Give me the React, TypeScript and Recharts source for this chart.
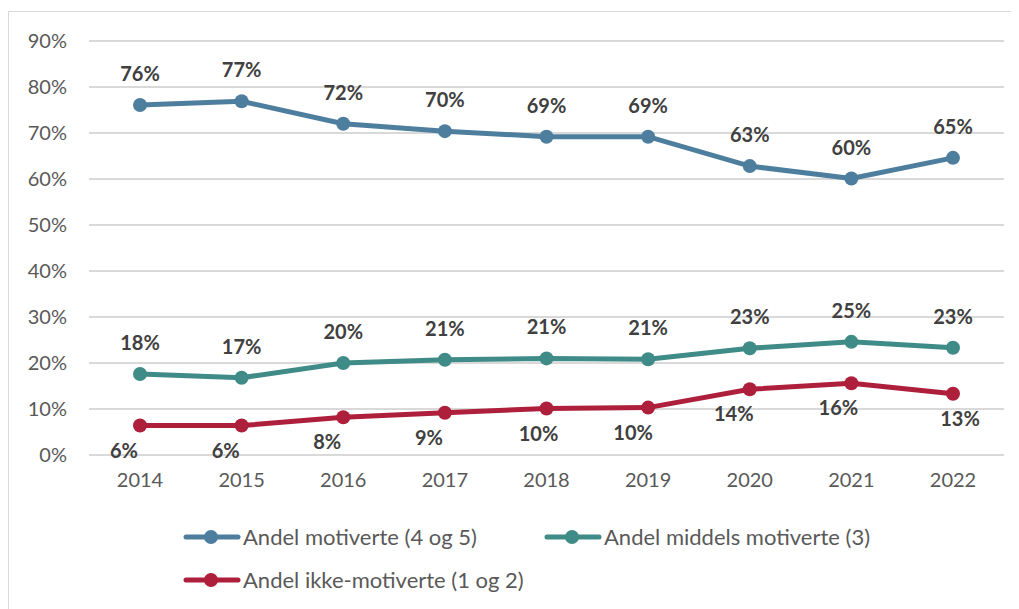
import React from "react";
import {
  LineChart,
  Line,
  XAxis,
  YAxis,
  CartesianGrid,
  LabelList,
} from "recharts";

// år og andeler (prosent)
const years = ["2014", "2015", "2016", "2017", "2018", "2019", "2020", "2021", "2022"];
const motiverte = [76.1, 76.9, 72.0, 70.4, 69.2, 69.2, 62.8, 60.1, 64.6];
const middels = [17.6, 16.8, 20.0, 20.7, 21.0, 20.8, 23.2, 24.6, 23.3];
const ikkeMotiverte = [6.4, 6.4, 8.2, 9.2, 10.1, 10.3, 14.3, 15.6, 13.3];
const yTicks = [0, 10, 20, 30, 40, 50, 60, 70, 80, 90];

const seriesNames = {
  motiverte: "Andel motiverte (4 og 5)",
  middels: "Andel middels motiverte (3)",
  ikke: "Andel ikke-motiverte (1 og 2)",
};

const BLUE = "#4e7e9e";
const TEAL = "#3f8b87";
const RED = "#ae1f3b";
const FONT = "Lato, 'Open Sans', sans-serif";

const data = years.map((year, i) => ({
  year,
  motiverte: motiverte[i],
  middels: middels[i],
  ikke: ikkeMotiverte[i],
}));

// labels for the red series are nudged sideways like in the original
const redShift = [-16, -16, -16, -16, -8, -15, -16, -13, 7];

const fmt = (v: number) => `${Math.round(v)}%`;

const AboveLabel = (props: any) => {
  const { x, y, value } = props;
  return (
    <text
      x={x}
      y={y - 24}
      textAnchor="middle"
      fill="#404040"
      fontFamily={FONT}
      fontWeight={700}
      fontSize={20}
    >
      {fmt(value)}
    </text>
  );
};

const BelowLabel = (props: any) => {
  const { x, y, value, index } = props;
  return (
    <text
      x={x + (redShift[index] ?? 0)}
      y={y + 32}
      textAnchor="middle"
      fill="#404040"
      fontFamily={FONT}
      fontWeight={700}
      fontSize={20}
    >
      {fmt(value)}
    </text>
  );
};

const LegendItem = ({ color, label, left, top }: { color: string; label: string; left: number; top: number }) => (
  <div
    style={{
      position: "absolute",
      left,
      top,
      height: 26,
      display: "flex",
      alignItems: "center",
      whiteSpace: "nowrap",
    }}
  >
    <svg width={58} height={18} style={{ marginRight: 2 }}>
      <line x1={3} y1={9} x2={55} y2={9} stroke={color} strokeWidth={5} strokeLinecap="round" />
      <circle cx={28} cy={9} r={7} fill={color} />
    </svg>
    <span style={{ fontFamily: FONT, fontSize: 22, color: "#595959", lineHeight: "26px" }}>{label}</span>
  </div>
);

export default function App() {
  return (
    <div
      style={{
        position: "relative",
        width: 1010,
        height: 597,
        marginTop: 3,
        borderTop: "1px solid #d9d9d9",
        borderLeft: "1px solid #d9d9d9",
        background: "#fff",
      }}
    >
      <LineChart
        width={1010}
        height={597}
        data={data}
        margin={{ top: 29, right: 15, left: 0, bottom: 124 }}
      >
        <CartesianGrid vertical={false} stroke="#d9d9d9" strokeWidth={2} />
        <XAxis
          dataKey="year"
          axisLine={false}
          tickLine={false}
          padding={{ left: 51, right: 51 }}
          height={30}
          tickMargin={12}
          interval={0}
          tick={{ fontSize: 20, fill: "#595959", fontFamily: FONT }}
        />
        <YAxis
          domain={[0, 90]}
          ticks={yTicks}
          width={80}
          axisLine={false}
          tickLine={false}
          tickMargin={16}
          tickFormatter={(v) => `${v}%`}
          tick={{ fontSize: 20, fill: "#595959", fontFamily: FONT }}
        />
        <Line
          dataKey="motiverte"
          name={seriesNames.motiverte}
          stroke={BLUE}
          strokeWidth={5}
          dot={{ r: 7, fill: BLUE, stroke: BLUE, strokeWidth: 0 }}
          isAnimationActive={false}
        >
          <LabelList dataKey="motiverte" content={AboveLabel} />
        </Line>
        <Line
          dataKey="middels"
          name={seriesNames.middels}
          stroke={TEAL}
          strokeWidth={5}
          dot={{ r: 7, fill: TEAL, stroke: TEAL, strokeWidth: 0 }}
          isAnimationActive={false}
        >
          <LabelList dataKey="middels" content={AboveLabel} />
        </Line>
        <Line
          dataKey="ikke"
          name={seriesNames.ikke}
          stroke={RED}
          strokeWidth={5}
          dot={{ r: 7, fill: RED, stroke: RED, strokeWidth: 0 }}
          isAnimationActive={false}
        >
          <LabelList dataKey="ikke" content={BelowLabel} />
        </Line>
      </LineChart>
      <LegendItem color={BLUE} label={seriesNames.motiverte} left={174} top={512} />
      <LegendItem color={TEAL} label={seriesNames.middels} left={535} top={512} />
      <LegendItem color={RED} label={seriesNames.ikke} left={174} top={555} />
    </div>
  );
}
